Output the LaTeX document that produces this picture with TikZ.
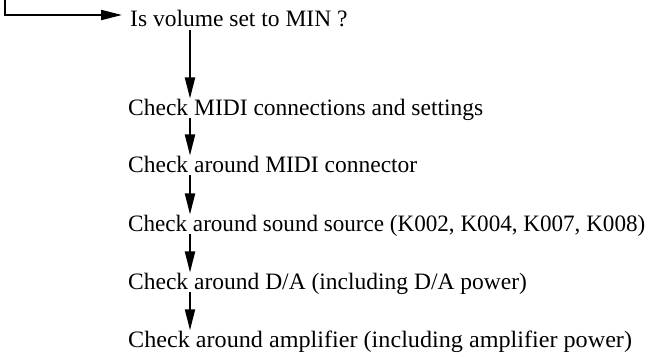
\documentclass[tikz,border=0pt]{standalone}
\usepackage{fontspec}
\setmainfont{Liberation Serif}
\usetikzlibrary{arrows.meta,calc}
\begin{document}
\begin{tikzpicture}[x=1pt,y=-1pt,
  lbl/.style={anchor=base west, inner sep=0pt, font=\fontsize{23.5}{28}\selectfont},
  arr/.style={line width=2pt, -{Triangle[length=21pt,width=10pt]}}]
\useasboundingbox (0,0) rectangle (653,356);
\node[lbl] (min)  at (130,27)  {Is volume set to MIN ?};
\node[lbl] (midi) at (128,115) {Check MIDI connections and settings};
\node[lbl] (conn) at (128,172) {Check around MIDI connector};
\node[lbl] (snd)  at (128,231) {\scalebox{0.983}[1]{Check around sound source (K002, K004, K007, K008)}};
\node[lbl] (da)   at (128,289) {Check around D/A (including D/A power)};
\node[lbl] (amp)  at (128,347) {\scalebox{1.028}[1]{Check around amplifier (including amplifier power)}};
\coordinate (col) at (190,0);
\coordinate (start) at (5,0);
\coordinate (bend) at (5,15);
\draw[arr] (start) -- (bend) -- ($(min.west |- bend)+(-8pt,0)$);
\draw[arr] ($(col |- min.base)+(0,-3pt)$) -- (col |- midi.north);
\draw[arr] ($(col |- midi.base)+(0,-3pt)$) -- (col |- conn.north);
\draw[arr] ($(col |- conn.base)+(0,-3pt)$) -- (col |- snd.north);
\draw[arr] ($(col |- snd.base)+(0,-3pt)$) -- (col |- da.north);
\draw[arr] ($(col |- da.base)+(0,-3pt)$) -- (col |- amp.north);
\end{tikzpicture}
\end{document}
